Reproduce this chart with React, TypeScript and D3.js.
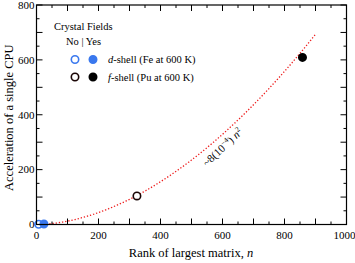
import React from "react";
import * as d3 from "d3";

const seriesNames = ["d-shell", "f-shell"];
const dShellN = [7, 24];
const dShellAccel = [1, 2];
const fShellN = [324, 858];
const fShellAccel = [104, 609];
const crystalField = [false, true];
const xTicks = [0, 200, 400, 600, 800, 1000];
const yTicks = [0, 200, 400, 600, 800];
const fitCoef = 696 / Math.pow(902, 1.84);
const fitExp = 1.84;
const fitMaxN = 902;

const W = 355, H = 263;
const M = { left: 36.5, right: 346.5, top: 5, bottom: 224.5 };
const font = "Liberation Serif, Times New Roman, DejaVu Serif, serif";
const blue = "#3a78ee";
const dark = "#1a0505";

export default function App() {
  const x = d3.scaleLinear().domain([0, 1000]).range([M.left, M.right]);
  const y = d3.scaleLinear().domain([0, 800]).range([M.bottom, M.top]);
  const xMinor = d3.range(0, 1001, 50);
  const yMinor = d3.range(0, 801, 50);
  const fitPts = d3.range(0, fitMaxN + 0.1, 4).map((n) => [n, fitCoef * Math.pow(n, fitExp)] as [number, number]);
  const line = d3.line<[number, number]>().x((d) => x(d[0])).y((d) => y(d[1]));

  const tickLen = (v: number, step: number) => (v % step === 0 ? 6 : 3);

  const marker = (cx: number, cy: number, color: string, filled: boolean, key: string) => (
    <circle key={key} cx={cx} cy={cy} r={3.7} fill={filled ? color : "white"} stroke={color} strokeWidth={1.6} />
  );

  const nA = 640;
  const dv = fitCoef * fitExp * Math.pow(nA, fitExp - 1);
  const ang = (Math.atan2(dv * (M.bottom - M.top) / 800, (M.right - M.left) / 1000) * 180) / Math.PI;

  return (
    <svg width={W} height={H} style={{ position: "absolute", left: 0, top: 0, fontFamily: font }}>
      <rect x={0} y={0} width={W} height={H} fill="white" />
      <path d={line(fitPts) || ""} fill="none" stroke="#ee1c1c" strokeWidth={1.3} strokeDasharray="1.3,1.9" />
      {dShellN.map((n, i) => marker(x(n), y(dShellAccel[i]), blue, crystalField[i], "d" + i))}
      {fShellN.map((n, i) => marker(x(n), y(fShellAccel[i]), i ? "#000" : dark, crystalField[i], "f" + i))}
      <rect x={M.left} y={M.top} width={M.right - M.left} height={M.bottom - M.top} fill="none" stroke="#000" strokeWidth={1.2} />
      {xMinor.map((v) => (
        <g key={"xt" + v} stroke="#000" strokeWidth={1}>
          <line x1={x(v)} x2={x(v)} y1={M.bottom} y2={M.bottom - tickLen(v, 100)} />
          <line x1={x(v)} x2={x(v)} y1={M.top} y2={M.top + tickLen(v, 100)} />
        </g>
      ))}
      {yMinor.map((v) => (
        <g key={"yt" + v} stroke="#000" strokeWidth={1}>
          <line x1={M.left} x2={M.left + tickLen(v, 100)} y1={y(v)} y2={y(v)} />
          <line x1={M.right} x2={M.right - tickLen(v, 100)} y1={y(v)} y2={y(v)} />
        </g>
      ))}
      {xTicks.map((v) => (
        <text key={"xl" + v} x={v === 1000 ? x(v) - 2 : x(v)} y={239} fontSize={11} textAnchor="middle" fill="#000" style={{ fontFamily: font }}>{v}</text>
      ))}
      {yTicks.map((v) => (
        <text key={"yl" + v} x={M.left - 2} y={y(v) + 3.8} fontSize={11} textAnchor="end" fill="#000" style={{ fontFamily: font }}>{v}</text>
      ))}
      <text x={191} y={257} fontSize={12.5} textAnchor="middle" fill="#000" style={{ fontFamily: font }}>
        Rank of largest matrix, <tspan fontStyle="italic">n</tspan>
      </text>
      <text transform={`translate(13,${(M.top + M.bottom) / 2 + 3}) rotate(-90)`} fontSize={12.5} textAnchor="middle" fill="#000" style={{ fontFamily: font }}>
        Acceleration of a single CPU
      </text>
      <text x={54} y={30} fontSize={10.5} fill="#000" style={{ fontFamily: font }}>Crystal Fields</text>
      <text x={66} y={45} fontSize={10.5} fill="#000" style={{ fontFamily: font }}>No | Yes</text>
      {marker(75, 59.5, blue, false, "l0")}
      {marker(93, 59.5, blue, true, "l1")}
      {marker(75, 77, dark, false, "l2")}
      {marker(93, 77, "#000", true, "l3")}
      <text x={108} y={63} fontSize={10.5} fill="#000" style={{ fontFamily: font }}>
        <tspan fontStyle="italic">d</tspan>-shell (Fe at 600 K)
      </text>
      <text x={108} y={80.5} fontSize={10.5} fill="#000" style={{ fontFamily: font }}>
        <tspan fontStyle="italic">f</tspan>-shell (Pu at 600 K)
      </text>
      <text transform={`translate(225,150) rotate(${-ang})`} fontSize={11} textAnchor="middle" fill="#000" style={{ fontFamily: font }}>
        ~8(10<tspan dy={-4} fontSize={7.5}>−4</tspan><tspan dy={4}>)</tspan> <tspan fontStyle="italic">n</tspan><tspan dy={-4} fontSize={7.5}>2</tspan>
      </text>
    </svg>
  );
}
